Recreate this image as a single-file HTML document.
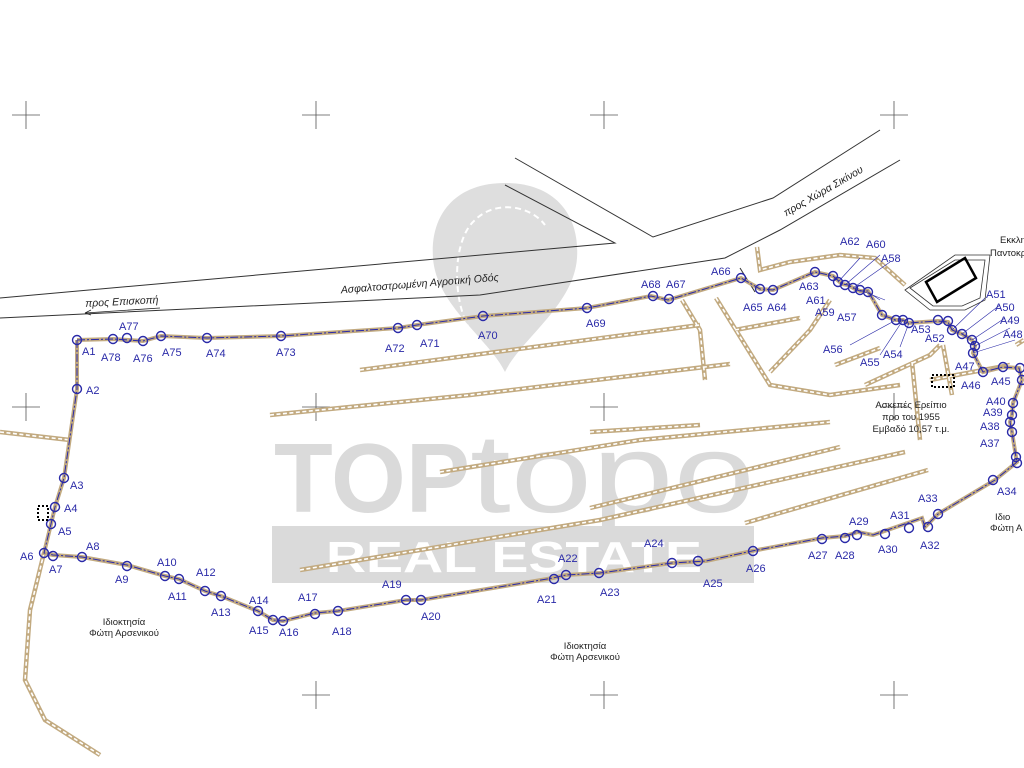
<!DOCTYPE html>
<html><head><meta charset="utf-8"><style>
html,body{margin:0;padding:0;background:#fff;}
svg{display:block;font-family:"Liberation Sans",sans-serif;}
.b{fill:#2a2aa8;font-size:11px;}
.k{fill:#222;font-size:9.5px;}
.c{fill:none;stroke:#c2aa80;stroke-width:4.5;}
.ci{fill:none;stroke:#fff;stroke-width:1.6;stroke-dasharray:4 2.5;}
.p{fill:none;stroke:#2a2aa8;stroke-width:1.4;}
.x{stroke:#555;stroke-width:0.8;}
</style></head><body>
<svg width="1024" height="768" viewBox="0 0 1024 768">
<defs>
<g id="wl">
<path d="M0,432 L70,440"/>
<path d="M360,370 L700,325"/>
<path d="M270,415 L470,395 L730,364"/>
<path d="M440,472 L640,440 L830,422"/>
<path d="M590,432 L700,425"/>
<path d="M300,570 L600,520 L905,452"/>
<path d="M590,508 L840,447"/>
<path d="M745,523 L928,470"/>
<path d="M44,553 L30,610 L25,680 L45,720 L100,755"/>
<path d="M716,298 L770,385 L830,395 L900,385"/>
<path d="M757,247 L760,270 L790,262 L840,255 L875,258 L905,285"/>
<path d="M735,330 L800,318"/>
<path d="M770,372 L810,330 L830,300"/>
<path d="M835,365 L880,348"/>
<path d="M865,385 L930,355 L940,345"/>
<path d="M912,362 L920,440"/>
<path d="M943,345 L952,395"/>
<path d="M930,380 L1010,365"/>
<path d="M682,300 L700,330 L705,380"/>
<path d="M1016,345 L1024,340"/>
</g>
</defs>
<!-- watermark -->
<path d="M505,183 C455,183 430,215 433,258 C436,305 490,340 505,372 C520,340 574,305 577,258 C580,215 555,183 505,183 Z" fill="#dedede"/>
<path d="M470,330 C452,300 452,240 475,220 C495,200 530,205 545,225" fill="none" stroke="#fff" stroke-width="2" stroke-dasharray="6 4"/>
<text x="274" y="512" font-size="98" font-weight="bold" fill="#dadada" textLength="196" lengthAdjust="spacingAndGlyphs">TOP</text>
<text x="470" y="512" font-size="112" fill="#dadada" textLength="285" lengthAdjust="spacingAndGlyphs">topo</text>
<rect x="272" y="526" width="482" height="57" fill="#dadada"/>
<text x="326" y="572" font-size="44" font-weight="bold" fill="#fff" textLength="376" lengthAdjust="spacingAndGlyphs">REAL ESTATE</text>

<!-- crosshairs -->
<g class="x">
<path d="M12,115h28M26,101v28M302,115h28M316,101v28M590,115h28M604,101v28M880,115h28M894,101v28"/>
<path d="M12,407h28M26,393v28M302,407h28M316,393v28M590,407h28M604,393v28M880,407h28M894,393v28"/>
<path d="M302,695h28M316,681v28M590,695h28M604,681v28M880,695h28M894,681v28"/>
</g>

<!-- roads -->
<g fill="none" stroke="#333" stroke-width="1">
<path d="M0,298 L615,243 L505,185"/>
<path d="M515,158 L653,237 L773,198 L880,130"/>
<path d="M0,318 L480,295 L725,258 L780,230 L900,160"/>
<path d="M740,268 L755,292"/>
</g>
<text x="420" y="287" font-size="10.5" fill="#222" transform="rotate(-4.6 420 287)" text-anchor="middle" font-style="italic">Ασφαλτοστρωμένη Αγροτική Οδός</text>
<text x="122" y="305" font-size="10.5" fill="#222" transform="rotate(-3 122 305)" text-anchor="middle" font-style="italic">προς Επισκοπή</text>
<path d="M85,313 L160,308 M85,313 l6,-3 M85,313 l6,2" stroke="#222" stroke-width="0.8" fill="none"/>
<text x="825" y="194" font-size="10.5" fill="#222" transform="rotate(-30 825 194)" text-anchor="middle" font-style="italic">προς Χώρα Σικίνου</text>

<!-- tan chain walls -->
<use href="#wl" class="c"/>
<use href="#wl" class="ci"/>

<!-- boundary -->
<polyline fill="none" stroke="#c2aa80" stroke-width="4" points="77,340 113,339 143,341 161,336 207,338 281,336 398,328 417,325 483,316 587,308 651,296 668,300 741,278 760,289 773,290 815,272 833,276 842,284 848,285 855,289 860,291 868,291 882,315 896,320 903,320 908,323 938,321 948,322 952,330 962,334 972,340 975,346 973,353 983,372 1003,367 1019,368 1022,380 1013,403 1012,415 1010,422 1012,432 1016,457 1017,462 995,480 938,514 925,527 922,518 873,535 858,532 845,536 822,538 752,551 706,561 672,563 600,573 566,575 553,578 421,600 406,600 338,611 315,613 283,621 273,620 258,611 221,596 205,591 179,579 165,576 127,565 82,557 53,555 44,553 51,524 55,507 64,478 77,389 77,340"/>
<polyline fill="none" stroke="#2a2aa8" stroke-width="1" stroke-dasharray="8 2 2 2" points="77,340 113,339 143,341 161,336 207,338 281,336 398,328 417,325 483,316 587,308 651,296 668,300 741,278 760,289 773,290 815,272 833,276 842,284 848,285 855,289 860,291 868,291 882,315 896,320 903,320 908,323 938,321 948,322 952,330 962,334 972,340 975,346 973,353 983,372 1003,367 1019,368 1022,380 1013,403 1012,415 1010,422 1012,432 1016,457 1017,462 995,480 938,514 925,527 922,518 873,535 858,532 845,536 822,538 752,551 706,561 672,563 600,573 566,575 553,578 421,600 406,600 338,611 315,613 283,621 273,620 258,611 221,596 205,591 179,579 165,576 127,565 82,557 53,555 44,553 51,524 55,507 64,478 77,389 77,340"/>
<g class="p" fill="none">
<circle cx="77" cy="340" r="4.5"/><circle cx="113" cy="339" r="4.5"/><circle cx="127" cy="338" r="4.5"/><circle cx="143" cy="341" r="4.5"/><circle cx="161" cy="336" r="4.5"/><circle cx="207" cy="338" r="4.5"/><circle cx="281" cy="336" r="4.5"/><circle cx="398" cy="328" r="4.5"/><circle cx="417" cy="325" r="4.5"/><circle cx="483" cy="316" r="4.5"/><circle cx="587" cy="308" r="4.5"/><circle cx="653" cy="296" r="4.5"/><circle cx="669" cy="299" r="4.5"/><circle cx="741" cy="278" r="4.5"/><circle cx="760" cy="289" r="4.5"/><circle cx="773" cy="290" r="4.5"/><circle cx="815" cy="272" r="4.5"/><circle cx="833" cy="276" r="4.5"/><circle cx="838" cy="282" r="4.5"/><circle cx="845" cy="285" r="4.5"/><circle cx="853" cy="288" r="4.5"/><circle cx="860" cy="290" r="4.5"/><circle cx="868" cy="292" r="4.5"/><circle cx="882" cy="315" r="4.5"/><circle cx="896" cy="320" r="4.5"/><circle cx="903" cy="320" r="4.5"/><circle cx="909" cy="323" r="4.5"/><circle cx="938" cy="320" r="4.5"/><circle cx="948" cy="321" r="4.5"/><circle cx="952" cy="330" r="4.5"/><circle cx="962" cy="334" r="4.5"/><circle cx="972" cy="340" r="4.5"/><circle cx="975" cy="346" r="4.5"/><circle cx="973" cy="353" r="4.5"/><circle cx="983" cy="372" r="4.5"/><circle cx="1003" cy="367" r="4.5"/><circle cx="1020" cy="368" r="4.5"/><circle cx="1022" cy="380" r="4.5"/><circle cx="1013" cy="403" r="4.5"/><circle cx="1012" cy="415" r="4.5"/><circle cx="1010" cy="422" r="4.5"/><circle cx="1012" cy="432" r="4.5"/><circle cx="1016" cy="457" r="4.5"/><circle cx="1017" cy="463" r="4.5"/><circle cx="993" cy="480" r="4.5"/><circle cx="938" cy="514" r="4.5"/><circle cx="928" cy="527" r="4.5"/><circle cx="909" cy="528" r="4.5"/><circle cx="885" cy="534" r="4.5"/><circle cx="857" cy="535" r="4.5"/><circle cx="845" cy="538" r="4.5"/><circle cx="822" cy="539" r="4.5"/><circle cx="753" cy="551" r="4.5"/><circle cx="698" cy="561" r="4.5"/><circle cx="672" cy="563" r="4.5"/><circle cx="599" cy="573" r="4.5"/><circle cx="566" cy="575" r="4.5"/><circle cx="554" cy="579" r="4.5"/><circle cx="421" cy="600" r="4.5"/><circle cx="406" cy="600" r="4.5"/><circle cx="338" cy="611" r="4.5"/><circle cx="315" cy="614" r="4.5"/><circle cx="283" cy="621" r="4.5"/><circle cx="273" cy="620" r="4.5"/><circle cx="258" cy="611" r="4.5"/><circle cx="221" cy="596" r="4.5"/><circle cx="205" cy="591" r="4.5"/><circle cx="179" cy="579" r="4.5"/><circle cx="165" cy="576" r="4.5"/><circle cx="127" cy="566" r="4.5"/><circle cx="82" cy="557" r="4.5"/><circle cx="53" cy="556" r="4.5"/><circle cx="44" cy="553" r="4.5"/><circle cx="51" cy="524" r="4.5"/><circle cx="55" cy="507" r="4.5"/><circle cx="64" cy="478" r="4.5"/><circle cx="77" cy="389" r="4.5"/>
</g>
<!-- leader lines -->
<g stroke="#2a2aa8" stroke-width="0.6">
<path d="M838,282 L860,258 M845,285 L880,255 M853,288 L890,262 M860,290 L885,300 M868,292 L880,300"/>
<path d="M896,320 L850,345 M903,320 L880,355 M909,323 L900,347"/>
<path d="M962,334 L1000,305 M972,340 L1005,318 M975,346 L1010,328 M973,353 L1015,340 M952,330 L985,298"/>
</g>

<!-- labels -->
<g class="b">
<text x="82" y="355">A1</text><text x="101" y="361">A78</text><text x="119" y="330">A77</text><text x="133" y="362">A76</text><text x="162" y="356">A75</text><text x="206" y="357">A74</text><text x="276" y="356">A73</text>
<text x="385" y="352">A72</text><text x="420" y="347">A71</text><text x="478" y="339">A70</text><text x="586" y="327">A69</text><text x="641" y="288">A68</text><text x="666" y="288">A67</text>
<text x="711" y="275">A66</text><text x="743" y="311">A65</text><text x="767" y="311">A64</text><text x="799" y="290">A63</text><text x="840" y="245">A62</text><text x="866" y="248">A60</text><text x="881" y="262">A58</text>
<text x="806" y="304">A61</text><text x="815" y="316">A59</text><text x="837" y="321">A57</text><text x="823" y="353">A56</text><text x="860" y="366">A55</text><text x="883" y="358">A54</text><text x="911" y="333">A53</text><text x="925" y="342">A52</text>
<text x="986" y="298">A51</text><text x="995" y="311">A50</text><text x="1000" y="324">A49</text><text x="1003" y="338">A48</text><text x="955" y="370">A47</text><text x="961" y="389">A46</text><text x="991" y="385">A45</text>
<text x="986" y="405">A40</text><text x="983" y="416">A39</text><text x="980" y="430">A38</text><text x="980" y="447">A37</text><text x="997" y="495">A34</text>
<text x="918" y="502">A33</text><text x="890" y="519">A31</text><text x="920" y="549">A32</text><text x="849" y="525">A29</text><text x="878" y="553">A30</text><text x="808" y="559">A27</text><text x="835" y="559">A28</text>
<text x="746" y="572">A26</text><text x="703" y="587">A25</text><text x="644" y="547">A24</text><text x="600" y="596">A23</text><text x="558" y="562">A22</text><text x="537" y="603">A21</text>
<text x="421" y="620">A20</text><text x="382" y="588">A19</text><text x="332" y="635">A18</text><text x="298" y="601">A17</text><text x="279" y="636">A16</text><text x="249" y="634">A15</text><text x="249" y="604">A14</text>
<text x="211" y="616">A13</text><text x="196" y="576">A12</text><text x="168" y="600">A11</text><text x="157" y="566">A10</text><text x="115" y="583">A9</text><text x="86" y="550">A8</text>
<text x="49" y="573">A7</text><text x="20" y="560">A6</text><text x="58" y="535">A5</text><text x="64" y="512">A4</text><text x="70" y="489">A3</text><text x="86" y="394">A2</text>
</g>

<!-- church -->
<path d="M905,290 L955,255 L990,255 L985,300 L965,310 L930,310 Z" fill="none" stroke="#333" stroke-width="0.8"/>
<path d="M910,288 L955,260 L985,260 L980,298 L962,306 L933,306 Z" fill="none" stroke="#333" stroke-width="0.8"/>
<path d="M926,282 L965,258 L976,278 L937,302 Z" fill="none" stroke="#000" stroke-width="2.5"/>
<text x="1000" y="243" class="k">Εκκλη</text>
<text x="990" y="256" class="k">Παντοκρά</text>

<!-- hermitage -->
<rect x="932" y="375" width="22" height="12" fill="none" stroke="#000" stroke-width="2" stroke-dasharray="2 2"/>
<rect x="38" y="506" width="10" height="14" fill="none" stroke="#000" stroke-width="2" stroke-dasharray="2 2"/>
<text x="911" y="408" class="k" text-anchor="middle">Ασκεπές Ερείπιο</text>
<text x="911" y="420" class="k" text-anchor="middle">προ του 1955</text>
<text x="911" y="432" class="k" text-anchor="middle">Εμβαδό 10,57 τ.μ.</text>
<text x="124" y="625" class="k" text-anchor="middle">Ιδιοκτησία</text>
<text x="124" y="636" class="k" text-anchor="middle">Φώτη Αρσενικού</text>
<text x="585" y="649" class="k" text-anchor="middle">Ιδιοκτησία</text>
<text x="585" y="660" class="k" text-anchor="middle">Φώτη Αρσενικού</text>
<text x="995" y="520" class="k">Ιδιο</text>
<text x="990" y="531" class="k">Φώτη Α</text>
</svg>
</body></html>
